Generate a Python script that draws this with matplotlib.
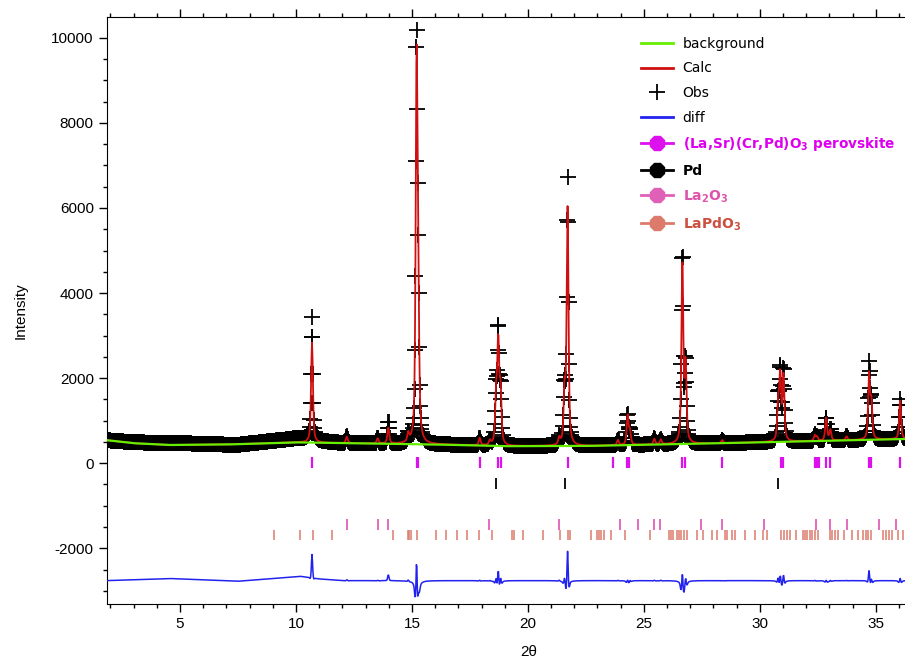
import numpy as np
import matplotlib
matplotlib.use("Agg")
import matplotlib.pyplot as plt
from matplotlib.lines import Line2D
from matplotlib.ticker import MultipleLocator

plt.rcParams['mathtext.default'] = 'bf'
plt.rcParams['axes.unicode_minus'] = False
plt.rcParams['font.family'] = ['Liberation Sans', 'DejaVu Sans']

# background knots (2theta, intensity)
bkg_tth = [1.85, 3.0, 4.5, 7.0, 10.0, 12.0, 16.0, 19.0, 22.5, 27.5, 32.0, 36.3]
bkg_int = [540, 470, 428, 440, 490, 472, 440, 400, 405, 460, 515, 570]

# extra amorphous signal seen in Obs but not in Calc
hump_tth = [1.85, 3.5, 4.5, 6.0, 7.5, 9.0, 10.2, 11.0, 12.0, 36.3]
hump_int = [0, 30, 50, 20, -15, 50, 100, 40, 0, 0]

# reflections in the pattern: position, calc height, obs height (above background)
peak_pos = [10.69, 12.19, 13.52, 13.98, 14.84, 15.20, 15.27, 17.92, 18.36,
            18.63, 18.72, 18.82, 21.35, 21.58, 21.71, 23.88, 24.30, 24.40,
            25.45, 25.73, 26.66, 26.80, 28.38, 30.79, 30.88, 31.02, 32.37,
            32.47, 32.86, 33.04, 33.74, 34.71, 34.81, 36.05]
calc_height = [2350, 150, 120, 380, 200, 8700, 2800, 170, 100,
               1100, 2350, 1250, 150, 1200, 5550, 120, 700, 300,
               130, 110, 4300, 1800, 70, 850, 1500, 1550, 130,
               90, 550, 250, 90, 1500, 850, 900]
obs_height = [2900, 170, 130, 520, 230, 9300, 2850, 180, 110,
              1200, 2650, 1350, 170, 1300, 6250, 130, 720, 320,
              140, 120, 4500, 1900, 70, 950, 1650, 1700, 140,
              90, 560, 260, 95, 1750, 900, 950]

# phase reflection markers
perov_ticks = [10.69, 15.20, 15.27, 17.92, 18.72, 18.82, 21.71, 23.65, 24.28,
               24.37, 26.65, 26.77, 28.38, 30.91, 31.02, 32.37, 32.47, 32.54,
               32.86, 33.04, 34.71, 34.81, 36.05]
pd_ticks = [18.63, 21.58, 30.79]
la2o3_ticks = [12.19, 13.52, 13.98, 18.33, 21.35, 23.97, 24.76, 25.45, 25.70,
               27.46, 28.38, 30.20, 32.41, 33.02, 33.75, 35.13, 35.89]
lapdo3_ticks = [9.07, 10.17, 10.75, 11.54, 14.17, 14.81, 14.88, 14.94, 15.20,
                16.02, 16.47, 16.93, 17.36, 17.90, 18.43, 19.33, 19.41, 19.80,
                20.66, 21.38, 21.74, 21.81, 22.74, 22.96, 23.06, 23.17, 23.29,
                23.58, 24.18, 25.26, 26.08, 26.16, 26.26, 26.41, 26.51, 26.62,
                26.74, 26.84, 27.27, 27.53, 27.92, 28.16, 28.49, 28.59, 28.82,
                28.92, 29.35, 29.81, 30.14, 30.29, 30.93, 31.03, 31.15, 31.29,
                31.55, 31.84, 31.94, 32.04, 32.16, 32.27, 32.37, 32.51, 33.02,
                33.13, 33.23, 33.38, 33.63, 33.99, 34.24, 34.45, 34.56, 34.67,
                34.78, 35.31, 35.46, 35.57, 35.72, 35.96, 36.18]

diff_offset = -2760


def pvoigt(x, fwhm, eta=0.6):
    g = np.exp(-4 * np.log(2) * (x / fwhm) ** 2)
    l = 1 / (1 + 4 * (x / fwhm) ** 2)
    return eta * l + (1 - eta) * g


tth = np.arange(1.85, 36.32, 0.02)
bkg = np.interp(tth, bkg_tth, bkg_int)
calc = bkg.copy()
obs = bkg + np.interp(tth, hump_tth, hump_int)
for p, hc, ho in zip(peak_pos, calc_height, obs_height):
    calc += hc * pvoigt(tth - p, 0.095)
    obs += ho * pvoigt(tth - p, 0.085)
diff = obs - calc + diff_offset

c_perov = '#dd10ee'
c_pd = 'black'
c_la2o3 = '#e060b8'
c_lapdo3 = '#dc7a6c'

fig = plt.figure(figsize=(9.05, 6.58), dpi=100)
ax = fig.add_axes([107 / 905, 1 - 604 / 658, 843 / 905, 587 / 658])

ax.plot(tth, obs, ls='none', marker='+', ms=11, mew=1.3, color='black', zorder=2)
ax.plot(tth, calc, color='#d01010', lw=1.3, zorder=3)
ax.plot(tth, bkg, color='#66ee00', lw=1.6, zorder=4)
ax.plot(tth, diff, color='#2222ee', lw=1.1, zorder=3)

ax.vlines(perov_ticks, -110, 140, color=c_perov, lw=1.6)
ax.vlines(pd_ticks, -345, -595, color=c_pd, lw=1.3)
ax.vlines(la2o3_ticks, -1320, -1575, color=c_la2o3, lw=1.3)
ax.vlines(lapdo3_ticks, -1560, -1810, color=c_lapdo3, lw=1.1)

ax.set_xlim(1.85, 38.2)
ax.set_ylim(-3310, 10490)
ax.xaxis.set_major_locator(MultipleLocator(5))
ax.xaxis.set_minor_locator(MultipleLocator(1))
ax.yaxis.set_major_locator(MultipleLocator(2000))
ax.yaxis.set_minor_locator(MultipleLocator(500))
ax.tick_params(which='both', direction='out', top=True, right=False,
               labelsize=11, width=1)
ax.tick_params(which='major', length=6)
ax.tick_params(which='minor', length=3)
ax.spines['right'].set_visible(False)

ax.set_xlabel('2θ', fontsize=11, labelpad=10)
ax.set_ylabel('Intensity', fontsize=11, labelpad=17)

handles = [
    Line2D([], [], color='#66ee00', lw=2),
    Line2D([], [], color='#d01010', lw=2),
    Line2D([], [], ls='none', marker='+', ms=12, mew=1.3, color='black'),
    Line2D([], [], color='#2222ee', lw=2),
    Line2D([], [], color=c_perov, lw=2, marker='8', ms=11),
    Line2D([], [], color=c_pd, lw=2, marker='8', ms=11),
    Line2D([], [], color=c_la2o3, lw=2, marker='8', ms=11),
    Line2D([], [], color=c_lapdo3, lw=2, marker='8', ms=11),
]
labels = ['background', 'Calc', 'Obs', 'diff',
          r'(La,Sr)(Cr,Pd)O$_3$ perovskite', 'Pd', r'La$_2$O$_3$', r'LaPdO$_3$']
leg = fig.legend(handles, labels, loc='upper left',
                 bbox_to_anchor=(634 / 905, 1 - 30 / 658),
                 frameon=False, borderpad=0,
                 prop={'family': 'DejaVu Sans', 'size': 10},
                 handlelength=2.3, handletextpad=0.7, labelspacing=0.76,
                 labelcolor=['black', 'black', 'black', 'black',
                             '#dd00ee', 'black', '#dd55aa', '#cc5040'])
for i, t in enumerate(leg.get_texts()[4:]):
    t.set_fontweight('bold')
    t.set_fontsize(9.8 if i == 0 else 10)

fig.savefig('out.png', dpi=100)
